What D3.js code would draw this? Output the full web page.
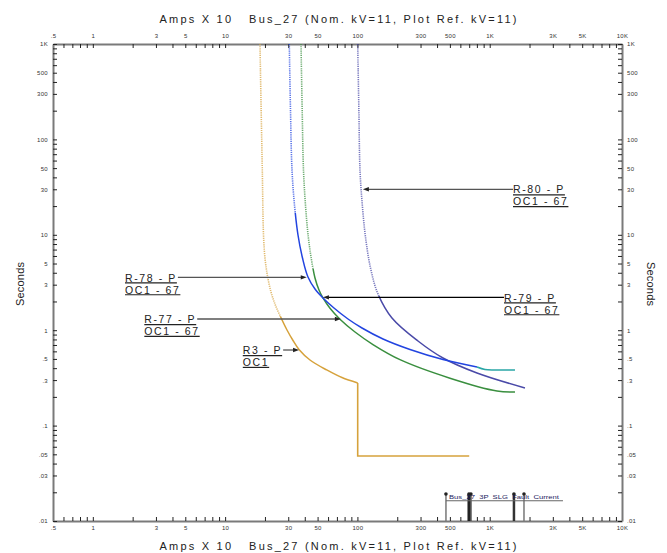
<!DOCTYPE html>
<html><head><meta charset="utf-8">
<script src="https://cdn.jsdelivr.net/npm/d3@7"></script>
<style>
html,body{margin:0;padding:0;background:#fff;}
svg{display:block;font-family:"Liberation Sans",Arial,sans-serif;}
</style></head><body>
<svg id="chart" width="667" height="553"></svg>
<script>
// ---------- data ----------
const xTickValues = [0.5, 1, 3, 5, 10, 30, 50, 100, 300, 500, 1000, 3000, 5000, 10000];
const xTickLabels = [".5", "1", "3", "5", "10", "30", "50", "100", "300", "500", "1K", "3K", "5K", "10K"];
const yTickValues = [1000, 500, 300, 100, 50, 30, 10, 5, 3, 1, 0.5, 0.3, 0.1, 0.05, 0.03, 0.01];
const yTickLabels = ["1K", "500", "300", "100", "50", "30", "10", "5", "3", "1", ".5", ".3", ".1", ".05", ".03", ".01"];

const titleText = "Amps X 10   Bus_27 (Nom. kV=11, Plot Ref. kV=11)";
const yTitle = "Seconds";

// R3 - P  (OC1)
const r3Amps = [18.34, 18.73, 19.10, 19.50, 20.01, 20.91, 22.23, 23.82, 25.98, 29.36, 32.60, 36.17, 43.81, 58.6, 76.4, 100.5];
const r3Secs = [1000, 199.9, 47.8, 10.1, 5.71, 3.70, 2.51, 1.88, 1.426, 1.005, 0.780, 0.628, 0.487, 0.383, 0.319, 0.280];
const r3StepAmps = [100.5, 100.5, 700];
const r3StepSecs = [0.280, 0.048, 0.048];

// R-78 - P (OC1 - 67)
const r78Amps = [30.55, 31.2, 32.03, 33.45, 35.55, 38.45, 42.3, 47.8, 54.9, 66.5, 84.9, 108.3, 156.1, 249.7, 443.4, 801.4];
const r78Secs = [1000, 203.3, 47.8, 20.5, 9.95, 5.71, 3.61, 2.70, 2.18, 1.709, 1.31, 1.055, 0.809, 0.628, 0.493, 0.411];
const r78TailAmps = [801.4, 921, 1096, 1553];
const r78TailSecs = [0.411, 0.387, 0.383, 0.383];

// R-77 - P (OC1 - 67)
const r77Amps = [37.46, 38.24, 39.12, 40.50, 42.54, 44.98, 47.79, 51.24, 54.9, 62.05, 73.84, 95.9, 131.1, 209.8, 501, 1135, 1553];
const r77Secs = [1000, 203.3, 47.8, 20.5, 9.48, 5.44, 3.53, 2.64, 2.18, 1.70, 1.304, 0.957, 0.707, 0.491, 0.314, 0.2306, 0.225];

// R-80 - P (OC1 - 67)
const r80Amps = [100.5, 102.6, 104.6, 108.9, 115.1, 125.6, 143.0, 182.5, 287.0, 443.4, 801.4, 1847];
const r80Secs = [1000, 199.9, 47.8, 20.5, 9.48, 4.49, 2.40, 1.342, 0.770, 0.511, 0.356, 0.248];

// annotations
const annoLine1 = ["R-80 - P", "R-79 - P", "R-78 - P", "R-77 - P", "R3 - P"];
const annoLine2 = ["OC1 - 67", "OC1 - 67", "OC1 - 67", "OC1 - 67", "OC1"];
const annoTipAmps = [110, 54.9, 41.4, 75, 36.2];
const annoTipSecs = [30, 2.21, 3.58, 1.31, 0.62];
const annoLabelAmps = [1500, 1282, 1.75, 2.45, 13.6];

// fault current markers (bottom right)
const faultAmps = [467, 697, 721, 1525, 1816];
const faultTopSecs = 0.0192;
const faultBarAmps = [467, 3580];
const faultBarSecs = 0.0163;
const faultText = "Bus_27  3P  SLG  Fault  Current";

// ---------- drawing ----------
const svg = d3.select("#chart");
const X0 = 53, X1 = 622, Y0 = 44, Y1 = 521;
const x = d3.scaleLog().domain([0.5, 10000]).range([X0, X1]);
const y = d3.scaleLog().domain([0.01, 1000]).range([Y1, Y0]);

function fmt(vals, labels) {
  return d => {
    const i = vals.findIndex(v => Math.abs(v - d) / v < 1e-6);
    return i >= 0 ? labels[i] : "";
  };
}

const defs = svg.append("defs");
defs.append("clipPath").attr("id", "plotclip")
  .append("rect").attr("x", X0).attr("y", Y0).attr("width", X1 - X0).attr("height", Y1 - Y0);

// titles
svg.append("text").attr("x", 338).attr("y", 23).attr("text-anchor", "middle")
  .attr("font-size", 11).attr("fill", "#222").style("white-space", "pre")
  .attr("textLength", 357).attr("lengthAdjust", "spacing").text(titleText);
svg.append("text").attr("x", 338).attr("y", 550).attr("text-anchor", "middle")
  .attr("font-size", 11).attr("fill", "#222").style("white-space", "pre")
  .attr("textLength", 357).attr("lengthAdjust", "spacing").text(titleText);
svg.append("text").attr("transform", "translate(23.5,284) rotate(-90)").attr("text-anchor", "middle")
  .attr("font-size", 11).attr("fill", "#222").attr("textLength", 44).text(yTitle);
svg.append("text").attr("transform", "translate(647,284) rotate(90)").attr("text-anchor", "middle")
  .attr("font-size", 11).attr("fill", "#222").attr("textLength", 44).text(yTitle);

// axes
const xt = x.ticks();
const yt = y.ticks();
function styleAxis(g) {
  g.select(".domain").attr("stroke", "#7a7a7a").attr("stroke-width", 2);
  g.selectAll(".tick line").attr("stroke", "#222").attr("stroke-width", 1);
  g.selectAll(".tick text").attr("font-size", 6).attr("fill", "#333")
    .attr("font-family", "'Liberation Sans',Arial,sans-serif").attr("letter-spacing", 0.3);
}
svg.append("g").attr("transform", `translate(0,${Y0})`)
  .call(d3.axisTop(x).tickValues(xt).tickFormat(fmt(xTickValues, xTickLabels)).tickSize(-4).tickSizeOuter(0).tickPadding(6))
  .call(styleAxis);
svg.append("g").attr("transform", `translate(0,${Y1})`)
  .call(d3.axisBottom(x).tickValues(xt).tickFormat(fmt(xTickValues, xTickLabels)).tickSize(-4).tickSizeOuter(0).tickPadding(5))
  .call(styleAxis);
svg.append("g").attr("transform", `translate(${X0},0)`)
  .call(d3.axisLeft(y).tickValues(yt).tickFormat(fmt(yTickValues, yTickLabels)).tickSize(-4).tickSizeOuter(0).tickPadding(5))
  .call(styleAxis);
svg.append("g").attr("transform", `translate(${X1},0)`)
  .call(d3.axisRight(y).tickValues(yt).tickFormat(fmt(yTickValues, yTickLabels)).tickSize(-4).tickSizeOuter(0).tickPadding(5))
  .call(styleAxis);

// curves
const curveLine = d3.line().x(d => x(d[0])).y(d => y(d[1])).curve(d3.curveCatmullRom.alpha(0.5));
const straightLine = d3.line().x(d => x(d[0])).y(d => y(d[1]));
const plotG = svg.append("g").attr("clip-path", "url(#plotclip)");

function drawSeries(id, amps, secs, color, splitSecs) {
  const pts = amps.map((a, i) => [a, secs[i]]);
  const ySplit = y(splitSecs);
  defs.append("clipPath").attr("id", id + "-top").append("rect")
    .attr("x", 0).attr("y", 0).attr("width", 667).attr("height", ySplit);
  defs.append("clipPath").attr("id", id + "-bot").append("rect")
    .attr("x", 0).attr("y", ySplit).attr("width", 667).attr("height", 553 - ySplit);
  const d = curveLine(pts);
  plotG.append("path").attr("d", d).attr("fill", "none").attr("stroke", color)
    .attr("stroke-width", 1.6).attr("stroke-dasharray", "1.2,1").attr("opacity", 0.75)
    .attr("clip-path", `url(#${id}-top)`);
  plotG.append("path").attr("d", d).attr("fill", "none").attr("stroke", color)
    .attr("stroke-width", 1.5).attr("clip-path", `url(#${id}-bot)`);
}

drawSeries("r3", r3Amps, r3Secs, "#d6a23c", 1.4);
plotG.append("path").attr("d", straightLine(r3StepAmps.map((a, i) => [a, r3StepSecs[i]])))
  .attr("fill", "none").attr("stroke", "#d6a23c").attr("stroke-width", 1.6);

drawSeries("r80", r80Amps, r80Secs, "#4a4aa8", 2.3);
drawSeries("r77", r77Amps, r77Secs, "#3a8f3f", 4.4);
drawSeries("r78", r78Amps, r78Secs, "#2244e0", 17);
plotG.append("path").attr("d", curveLine(r78TailAmps.map((a, i) => [a, r78TailSecs[i]])))
  .attr("fill", "none").attr("stroke", "#2aa6a6").attr("stroke-width", 1.5);

// fault markers
const fg = svg.append("g");
const faultW = [1.5, 3, 1.5, 2.5, 1.5];
const faultC = ["#777", "#222", "#444", "#333", "#777"];
faultAmps.forEach((a, i) => {
  fg.append("line").attr("x1", x(a)).attr("x2", x(a)).attr("y1", y(0.01)).attr("y2", y(faultTopSecs))
    .attr("stroke", faultC[i]).attr("stroke-width", faultW[i]);
  fg.append("circle").attr("cx", x(a)).attr("cy", y(faultTopSecs)).attr("r", 1.8).attr("fill", "#222");
});
fg.append("line").attr("x1", x(faultBarAmps[0])).attr("x2", x(faultBarAmps[1]))
  .attr("y1", y(faultBarSecs)).attr("y2", y(faultBarSecs)).attr("stroke", "#666").attr("stroke-width", 1);
fg.append("text").attr("x", x(faultBarAmps[0]) + 3).attr("y", y(faultBarSecs) - 2)
  .attr("font-size", 5).attr("fill", "#1a1a60").attr("textLength", 110).attr("lengthAdjust", "spacingAndGlyphs")
  .style("white-space", "pre").text(faultText);

// annotations
const ag = svg.append("g");
annoLine1.forEach((t1, i) => {
  const tipX = x(annoTipAmps[i]), tipY = y(annoTipSecs[i]);
  const lx = x(annoLabelAmps[i]);
  const right = annoLabelAmps[i] > annoTipAmps[i];
  const col = i === 1 ? "#000" : "#555";
  const txt1 = ag.append("text").attr("x", lx).attr("y", tipY + 4.2).attr("font-size", 10.5)
    .attr("letter-spacing", 1.6).attr("fill", "#222").style("white-space", "pre").text(t1);
  const txt2 = ag.append("text").attr("x", lx).attr("y", tipY + 16.2).attr("font-size", 10.5)
    .attr("letter-spacing", 1.6).attr("fill", "#222").style("white-space", "pre").text(annoLine2[i]);
  const w1 = txt1.node().getComputedTextLength();
  const w2 = txt2.node().getComputedTextLength();
  ag.append("line").attr("x1", lx).attr("x2", lx + w1).attr("y1", tipY + 5.6).attr("y2", tipY + 5.6)
    .attr("stroke", "#222").attr("stroke-width", 1.2);
  ag.append("line").attr("x1", lx).attr("x2", lx + w2).attr("y1", tipY + 17.4).attr("y2", tipY + 17.4)
    .attr("stroke", "#222").attr("stroke-width", 1.2);
  const startX = right ? lx : lx + w1 + 1;
  const dir = right ? -1 : 1;
  ag.append("line").attr("x1", startX).attr("x2", tipX - dir * 4).attr("y1", tipY).attr("y2", tipY)
    .attr("stroke", col).attr("stroke-width", 1.3);
  ag.append("path")
    .attr("d", `M${tipX},${tipY} L${tipX - dir * 6},${tipY - 2.2} L${tipX - dir * 6},${tipY + 2.2} Z`)
    .attr("fill", "#222");
});
</script>
</body></html>
